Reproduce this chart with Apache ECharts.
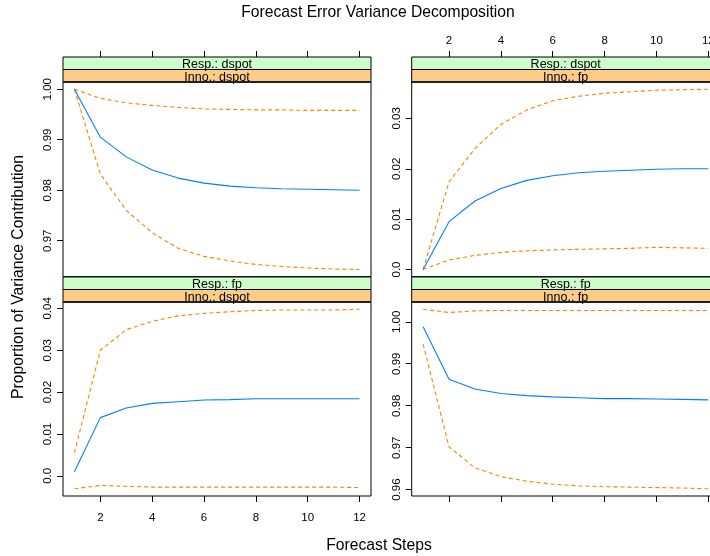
<!DOCTYPE html>
<html>
<head>
<meta charset="utf-8">
<script src="https://cdn.jsdelivr.net/npm/echarts@6/dist/echarts.min.js"></script>
<style>
html,body{margin:0;padding:0;background:#fff;}
#chart{width:710px;height:556px;}
</style>
</head>
<body>
<div id="chart"></div>
<script>
// ---------- data ----------
const steps = [1, 2, 3, 4, 5, 6, 7, 8, 9, 10, 11, 12];
const xTicks = [2, 4, 6, 8, 10, 12];

const respNames = ['dspot', 'dspot', 'fp', 'fp'];
const innoNames = ['dspot', 'fp', 'dspot', 'fp'];

// Resp: dspot / Inno: dspot
const fitA = [1.0000, 0.9905, 0.9866, 0.9840, 0.9824, 0.9814, 0.9808, 0.9805, 0.9803, 0.9802, 0.9801, 0.9800];
const upA  = [1.0000, 0.9982, 0.9973, 0.9968, 0.9964, 0.9961, 0.9960, 0.9959, 0.9959, 0.9958, 0.9958, 0.9958];
const loA  = [1.0000, 0.9832, 0.9760, 0.9716, 0.9685, 0.9669, 0.9660, 0.9653, 0.9649, 0.9646, 0.9644, 0.9643];

// Resp: dspot / Inno: fp
const fitB = [0.0000, 0.0095, 0.0136, 0.0161, 0.0177, 0.0186, 0.0192, 0.0195, 0.0197, 0.0199, 0.0200, 0.0200];
const upB  = [0.0000, 0.0174, 0.0240, 0.0288, 0.0317, 0.0335, 0.0344, 0.0350, 0.0353, 0.0356, 0.0357, 0.0358];
const loB  = [0.0000, 0.0019, 0.0028, 0.0034, 0.0037, 0.0039, 0.0040, 0.0041, 0.0042, 0.0044, 0.0043, 0.0042];

// Resp: fp / Inno: dspot
const fitC = [0.0010, 0.0139, 0.0162, 0.0173, 0.0177, 0.0181, 0.0182, 0.0184, 0.0184, 0.0184, 0.0184, 0.0184];
const upC  = [0.0055, 0.0300, 0.0349, 0.0369, 0.0382, 0.0388, 0.0392, 0.0395, 0.0396, 0.0396, 0.0396, 0.0398];
const loC  = [-0.0031, -0.0023, -0.0025, -0.0027, -0.0027, -0.0027, -0.0027, -0.0027, -0.0027, -0.0027, -0.0027, -0.0028];

// Resp: fp / Inno: fp
const fitD = [0.9988, 0.9863, 0.9840, 0.9829, 0.9824, 0.9821, 0.9819, 0.9817, 0.9817, 0.9816, 0.9815, 0.9814];
const upD  = [1.0030, 1.0022, 1.0026, 1.0027, 1.0027, 1.0027, 1.0027, 1.0027, 1.0027, 1.0027, 1.0027, 1.0027];
const loD  = [0.9947, 0.9702, 0.9652, 0.9631, 0.9620, 0.9613, 0.9609, 0.9607, 0.9606, 0.9605, 0.9604, 0.9602];

const yTicksA = [0.97, 0.98, 0.99, 1.00];
const yLabelsA = ['0.97', '0.98', '0.99', '1.00'];
const yTicksB = [0, 0.01, 0.02, 0.03];
const yLabelsB = ['0.0', '0.01', '0.02', '0.03'];
const yTicksC = [0, 0.01, 0.02, 0.03, 0.04];
const yLabelsC = ['0.0', '0.01', '0.02', '0.03', '0.04'];
const yTicksD = [0.96, 0.97, 0.98, 0.99, 1.00];
const yLabelsD = ['0.96', '0.97', '0.98', '0.99', '1.00'];

const titleText = 'Forecast Error Variance Decomposition';
const xTitle = 'Forecast Steps';
const yTitle = 'Proportion of Variance Contribution';

// ---------- layout ----------
const FONT = '"Liberation Sans", Arial, sans-serif';
const colLeft = [63, 411.7];
const panelW = 308;
const rowTop = [82, 302];
const panelH = [194.7, 194];
const stripH = 12.5;

const panels = [
  { fit: fitA, up: upA, lo: loA, yt: yTicksA, yl: yLabelsA },
  { fit: fitB, up: upB, lo: loB, yt: yTicksB, yl: yLabelsB },
  { fit: fitC, up: upC, lo: loC, yt: yTicksC, yl: yLabelsC },
  { fit: fitD, up: upD, lo: loD, yt: yTicksD, yl: yLabelsD }
];

function pad(lo, hi) { const r = hi - lo; return [lo - 0.04 * r, hi + 0.04 * r]; }

const grids = [], xAxes = [], yAxes = [], series = [], graphics = [];
const xr = pad(1, 12);

panels.forEach((p, i) => {
  const col = i % 2, row = Math.floor(i / 2);
  const all = p.fit.concat(p.up, p.lo);
  const yr = pad(Math.min(...all), Math.max(...all));
  grids.push({
    left: colLeft[col], top: rowTop[row], width: panelW, height: panelH[row],
    show: true, borderColor: '#000', borderWidth: 1, backgroundColor: 'transparent',
    containLabel: false, outerBoundsMode: 'none'
  });
  const showXLabel = (row === 0 && col === 1) || (row === 1 && col === 0);
  xAxes.push({
    type: 'value', gridIndex: i, min: xr[0], max: xr[1],
    position: row === 0 ? 'top' : 'bottom',
    offset: row === 0 ? 2 * stripH : 0,
    axisLine: { show: false, onZero: false },
    splitLine: { show: false },
    axisTick: { show: true, length: 6, customValues: xTicks, lineStyle: { color: '#000', width: 1 } },
    axisLabel: {
      show: showXLabel, customValues: xTicks, margin: row === 0 ? 10 : 16,
      fontSize: 11.5, color: '#000', fontFamily: FONT,
      formatter: v => String(Math.round(v))
    }
  });
  yAxes.push({
    type: 'value', gridIndex: i, min: yr[0], max: yr[1], position: 'left',
    axisLine: { show: false, onZero: false },
    splitLine: { show: false },
    axisTick: { show: true, length: 6, customValues: p.yt, lineStyle: { color: '#000', width: 1 } },
    axisLabel: {
      show: true, customValues: p.yt, rotate: 90, margin: 9,
      fontSize: 11.5, color: '#000', fontFamily: FONT,
      formatter: v => {
        let best = 0;
        p.yt.forEach((t, k) => { if (Math.abs(t - v) < Math.abs(p.yt[best] - v)) best = k; });
        return p.yl[best];
      }
    }
  });
  const mk = (arr, isFit) => ({
    type: 'line', xAxisIndex: i, yAxisIndex: i,
    data: steps.map((s, k) => [s, arr[k]]),
    symbol: 'none', silent: true, animation: false, clip: true,
    lineStyle: isFit
      ? { color: '#0080ff', width: 1.1, type: 'solid' }
      : { color: '#ff8000', width: 1.1, type: [4, 3] }
  });
  series.push(mk(p.up, false), mk(p.lo, false), mk(p.fit, true));

  // strips
  const sx = colLeft[col], sy = rowTop[row] - 2 * stripH;
  graphics.push({
    type: 'rect', shape: { x: sx, y: sy, width: panelW, height: stripH },
    style: { fill: '#ccffcc', stroke: '#000', lineWidth: 1 }, z: 10
  });
  graphics.push({
    type: 'rect', shape: { x: sx, y: sy + stripH, width: panelW, height: stripH },
    style: { fill: '#ffcc88', stroke: '#000', lineWidth: 1 }, z: 10
  });
  graphics.push({
    type: 'line', shape: { x1: sx, y1: rowTop[row], x2: sx + panelW, y2: rowTop[row] },
    style: { stroke: '#222', lineWidth: 2 }, z: 11
  });
  graphics.push({
    type: 'text', x: sx + panelW / 2, y: sy + stripH / 2 + 1.5, z: 12,
    style: { text: 'Resp.: ' + respNames[i], fill: '#000', font: '12.5px ' + FONT, align: 'center', verticalAlign: 'middle' }
  });
  graphics.push({
    type: 'text', x: sx + panelW / 2, y: sy + stripH * 1.5 + 1.5, z: 12,
    style: { text: 'Inno.: ' + innoNames[i], fill: '#000', font: '12.5px ' + FONT, align: 'center', verticalAlign: 'middle' }
  });
});

graphics.push({
  type: 'text', x: 378, y: 13, z: 12,
  style: { text: titleText, fill: '#000', font: '15.7px ' + FONT, align: 'center', verticalAlign: 'middle' }
});
graphics.push({
  type: 'text', x: 379, y: 546, z: 12,
  style: { text: xTitle, fill: '#000', font: '15.7px ' + FONT, align: 'center', verticalAlign: 'middle' }
});
graphics.push({
  type: 'text', x: 19, y: 277, rotation: Math.PI / 2, z: 12,
  style: { text: yTitle, fill: '#000', font: '15.7px ' + FONT, align: 'center', verticalAlign: 'middle' }
});

const chart = echarts.init(document.getElementById('chart'), null, { renderer: 'canvas' });
chart.setOption({
  animation: false,
  backgroundColor: '#fff',
  grid: grids,
  xAxis: xAxes,
  yAxis: yAxes,
  series: series,
  graphic: graphics
});
</script>
</body>
</html>
